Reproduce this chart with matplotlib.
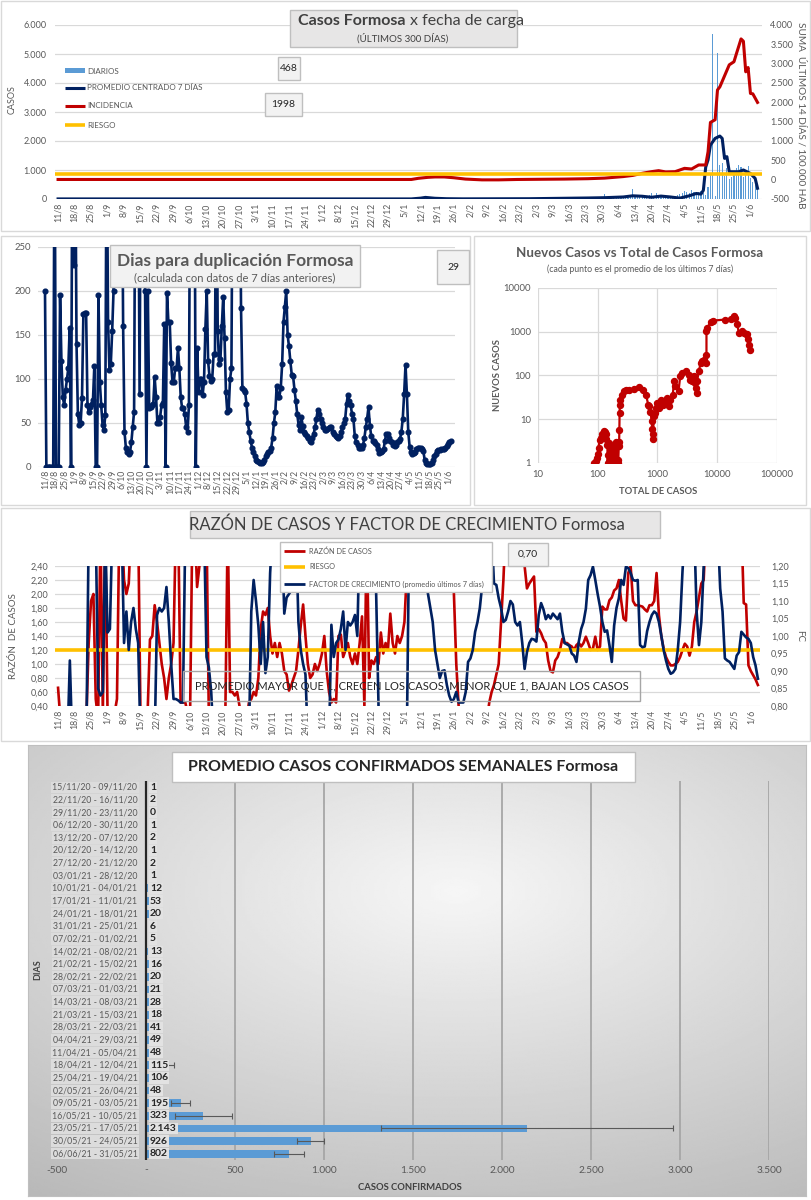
import numpy as np
import matplotlib
matplotlib.use('Agg')
import matplotlib.pyplot as plt
from matplotlib.patches import Rectangle
from matplotlib.lines import Line2D
from matplotlib.ticker import FuncFormatter

# ======================= DATA =======================
# etiquetas del eje X (cada 7 días desde 11/8/2020; los días se cuentan desde esa fecha)
fechas_ticks = ['11/8', '18/8', '25/8', '1/9', '8/9', '15/9', '22/9', '29/9', '6/10', '13/10',
                '20/10', '27/10', '3/11', '10/11', '17/11', '24/11', '1/12', '8/12', '15/12',
                '22/12', '29/12', '5/1', '12/1', '19/1', '26/1', '2/2', '9/2', '16/2', '23/2',
                '2/3', '9/3', '16/3', '23/3', '30/3', '6/4', '13/4', '20/4', '27/4', '4/5',
                '11/5', '18/5', '25/5', '1/6']

# --- Panel 1: casos diarios (desde el día 200 = 27/2/2021)
diarios_dia_inicial = 200
diarios = [20, 30, 15, 40, 10, 25, 20, 35, 30, 25,
           30, 40, 45, 20, 35, 30, 60, 25, 45, 40,
           50, 35, 70, 20, 40, 55, 30, 45, 35, 60,
           50, 40, 170, 30, 45, 60, 40, 55, 65, 50,
           70, 60, 45, 80, 335, 120, 90, 110, 60, 70,
           80, 150, 190, 120, 200, 90, 110, 60, 50, 80,
           70, 100, 120, 150, 180, 220, 280, 250, 210, 300,
           240, 180, 230, 260, 200, 150, 420, 900, 5700, 100,
           5020, 1170, 1250, 800, 1060, 700, 770, 950, 1060, 1170,
           1100, 760, 1000, 1150, 720, 600, 480, 468]
prom_dia = [0, 150, 154, 156, 160, 165, 172, 200, 215, 225,
            232, 240, 244, 248, 252, 256, 260, 264, 268, 271,
            273, 274, 275, 276, 277, 279, 281, 282, 283, 284,
            285, 289, 291, 294, 296, 297]
prom_val = [3, 3, 30, 55, 25, 10, 5, 10, 25, 35,
            45, 70, 110, 95, 60, 100, 70, 30, 110, 190,
            170, 300, 1100, 1350, 1860, 2090, 2170, 2090, 1400, 1460,
            940, 940, 1000, 880, 710, 370]
inc_dia = [0, 150, 153, 157, 160, 164, 168, 173, 180, 187,
           195, 205, 215, 225, 232, 240, 244, 248, 252, 255,
           258, 262, 266, 269, 272, 275, 276, 277, 279, 280,
           281, 285, 287, 288, 290, 291, 292, 293, 294, 295, 297]
inc_val = [5, 5, 35, 60, 70, 70, 50, 15, -5, -5,
           5, 10, 15, 25, 40, 80, 110, 164, 207, 233,
           200, 207, 293, 276, 380, 380, 724, 1480, 1550, 2320,
           2400, 2970, 3050, 3250, 3640, 3580, 2790, 2900, 2230, 2220, 1998]
riesgo_inc = 150
ultimo_diario = 468
ultima_incidencia = 1998

# --- Panel 2: días para duplicación (diario desde 11/8)
duplicacion = [200, 0, 0, 0, 0, 0, 0, 400, 0, 0,
               0, 196, 120, 80, 70, 87, 100, 112, 158, 0,
               400, 230, 400, 140, 60, 48, 50, 78, 174, 175,
               175, 70, 62, 68, 72, 76, 115, 0, 0, 196,
               97, 70, 48, 42, 59, 400, 165, 110, 117, 154,
               200, 400, 400, 400, 400, 400, 400, 160, 40, 22,
               17, 15, 17, 28, 45, 63, 400, 400, 400, 83,
               400, 400, 400, 200, 0, 200, 67, 68, 70, 72,
               102, 80, 50, 50, 57, 70, 73, 163, 0, 198,
               165, 165, 118, 97, 97, 113, 113, 135, 112, 80,
               67, 67, 60, 45, 40, 70, 400, 400, 400, 400,
               0, 135, 85, 100, 100, 82, 97, 157, 200, 120,
               103, 98, 100, 128, 128, 400, 155, 117, 123, 160,
               193, 147, 85, 62, 65, 100, 112, 400, 400, 400,
               400, 400, 400, 181, 90, 87, 85, 72, 50, 40,
               30, 22, 17, 12, 8, 7, 6, 5, 5, 6,
               8, 12, 15, 17, 18, 22, 33, 50, 62, 92,
               80, 80, 90, 117, 165, 182, 200, 150, 137, 120,
               105, 103, 88, 75, 60, 48, 42, 57, 47, 40,
               38, 35, 33, 30, 28, 33, 38, 45, 55, 65,
               60, 55, 50, 45, 42, 42, 43, 44, 45, 46,
               40, 38, 35, 34, 33, 35, 40, 45, 50, 55,
               72, 82, 75, 70, 60, 55, 35, 28, 25, 22,
               22, 22, 25, 33, 45, 55, 68, 47, 35, 30,
               30, 27, 25, 20, 16, 17, 18, 20, 30, 38,
               38, 33, 30, 28, 25, 24, 25, 28, 30, 32,
               40, 55, 83, 116, 83, 40, 23, 17, 15, 16,
               17, 20, 22, 22, 22, 20, 18, 8, 5, 3,
               3, 3, 5, 8, 12, 15, 18, 19, 19, 20,
               20, 21, 22, 24, 26, 28, 29]
ultima_duplicacion = 29

# --- Panel 3: nuevos casos vs total de casos
total_casos = [88, 92, 97, 100, 103, 107, 112, 118, 125, 130, 136, 140, 145, 146, 150, 155,
               160, 168, 175, 180, 188, 195, 200, 205, 210, 215, 220, 225, 228, 230, 232, 235,
               240, 250, 270, 300, 338, 408, 494, 563, 640, 700, 730, 760, 800, 815, 830, 845,
               860, 900, 935, 1000, 1070, 1140, 1250, 1350, 1460, 1550, 1650, 1800, 1900, 2000,
               2250, 2400, 2600, 3000, 3400, 3500, 3600, 3800, 4100, 4250, 4400, 4500, 4600,
               4900, 5300, 5600, 6000, 6400, 6600, 6600, 6700, 7800, 8500, 13700, 17000, 19000,
               20000, 21500, 23000, 26000, 28500, 30000, 32000, 33000, 34500, 35000]
nuevos_casos = [1, 1.1, 1.3, 1.6, 2.2, 3.4, 3.7, 4.5, 5.3, 5, 4.5, 3.5, 2.6, 1, 1.5, 2.8,
                1, 2.2, 1.2, 1, 2.5, 1.3, 3, 1, 2.8, 1.2, 1, 2.5, 3, 5.8, 13.9, 21.6,
                28, 36.6, 43.6, 46, 47.6, 49.6, 54, 47.6, 36.6, 21.6, 19.8, 15, 9, 6, 4.5, 3.6,
                11.7, 14, 18.2, 23.7, 18.2, 28, 21.6, 25.8, 30.8, 19.8, 28, 36.6, 74, 57,
                43.6, 96.5, 114, 125, 105, 80, 88, 74, 96.5, 68, 52, 40, 74,
                125, 195, 212, 230, 195, 300, 1020, 1200, 1680, 1800, 1900, 2000, 2250,
                2100, 1500, 950, 1020, 950, 900, 870, 670, 510, 390]

# --- Panel 4: razón de casos (eje izq.) y factor de crecimiento (eje der.), diario desde 11/8
razon_casos = [0.66, 0.2, 0.2, 0.2, 0.2, 0.2, 0.2, 0.2, 0.2, 0.2,
               0.2, 0.2, 0.2, 1.3, 1.9, 2.0, 0.5, 0.2, 3.0, 0.3,
               3.0, 0.3, 0.2, 0.2, 0.3, 0.5, 3.0, 3.0, 2.2, 2.0,
               2.15, 3.0, 3.0, 3.0, 3.0, 0.2, 0.2, 0.2, 0.3, 1.35,
               1.4, 1.84, 1.6, 1.3, 1.0, 0.8, 0.5, 0.8, 1.0, 1.3,
               3.0, 3.0, 0.45, 0.45, 0.45, 0.3, 0.2, 3.0, 3.0, 2.1,
               2.4, 3.0, 3.0, 3.0, 0.2, 0.2, 0.2, 0.2, 0.2, 0.2,
               0.2, 0.3, 3.0, 0.6, 0.6, 0.55, 0.6, 0.4, 0.2, 0.2,
               0.2, 0.45, 0.5, 0.6, 0.55, 0.8, 1.5, 1.75, 1.7, 1.8,
               1.4, 1.15, 1.3, 1.1, 1.3, 1.15, 0.9, 0.85, 0.62, 0.7,
               0.8, 0.9, 1.2, 1.55, 1.85, 1.4, 1.0, 0.8, 0.85, 1.0,
               0.9, 1.0, 1.15, 1.4, 0.9, 0.6, 0.45, 0.5, 0.45, 1.4,
               1.42, 1.1, 1.2, 1.3, 1.1, 1.0, 1.15, 1.0, 1.3, 1.68,
               0.4, 3.0, 0.8, 1.05, 1.0, 1.1, 1.0, 1.45, 1.15, 1.3,
               1.2, 1.72, 1.3, 1.15, 1.4, 1.3, 1.4, 1.6, 2.3, 3.0,
               3.0, 3.0, 3.0, 3.0, 3.0, 3.0, 3.0, 3.0, 3.0, 3.0,
               3.0, 3.0, 3.0, 3.0, 3.0, 3.0, 3.0, 3.0, 2.0, 1.0,
               0.4, 0.2, 0.2, 0.2, 0.2, 0.2, 0.2, 0.2, 0.2, 0.2,
               0.2, 0.2, 0.2, 0.45, 0.6, 0.7, 0.85, 1.0, 1.6, 2.2,
               3.0, 3.0, 3.0, 3.0, 3.0, 3.0, 3.0, 3.0, 2.4, 2.08,
               2.15, 2.2, 2.25, 1.46, 1.5, 1.44, 1.35, 1.3, 1.05, 0.9,
               0.88, 1.05, 1.1, 1.2, 1.36, 1.3, 1.3, 1.27, 1.25, 1.2,
               1.27, 1.3, 1.25, 1.3, 1.39, 1.3, 1.2, 1.22, 1.39, 1.2,
               1.25, 1.82, 1.78, 1.78, 1.91, 1.95, 2.05, 2.08, 2.2, 1.9,
               1.65, 1.62, 2.3, 2.4, 1.9, 1.84, 1.84, 1.83, 1.82, 1.78,
               1.75, 1.84, 1.84, 1.9, 2.3, 1.7, 1.4, 1.22, 1.1, 1.03,
               0.98, 0.98, 1.0, 1.03, 1.1, 1.2, 1.29, 1.25, 1.12, 1.25,
               1.6, 1.75, 1.95, 2.15, 2.2, 3.0, 3.0, 3.0, 3.0, 3.0,
               3.0, 3.0, 3.0, 3.0, 3.0, 3.0, 3.0, 3.0, 3.0, 3.0,
               3.0, 1.87, 1.85, 0.98, 0.9, 0.84, 0.78, 0.70]
factor_crec = [0.7, 0.7, 0.7, 0.7, 0.7, 0.93, 0.7, 0.7, 0.7, 0.7,
               0.7, 0.7, 0.7, 1.3, 1.3, 1.3, 1.3, 0.85, 0.83, 0.84,
               1.3, 1.01, 1.02, 1.3, 1.3, 1.3, 1.3, 1.3, 0.98, 1.07,
               0.96, 1.04, 1.08, 1.02, 0.98, 0.7, 0.7, 0.7, 0.7, 0.7,
               0.7, 0.7, 1.06, 1.08, 1.07, 1.08, 1.14, 1.04, 0.92, 0.82,
               0.82, 0.816, 0.81, 0.81, 1.3, 1.3, 1.3, 1.3, 1.3, 1.3,
               1.3, 1.3, 1.3, 0.94, 0.91, 0.84, 0.7, 0.7, 0.7, 0.7,
               0.7, 0.7, 0.7, 0.7, 0.7, 0.7, 0.7, 0.7, 0.7, 0.7,
               0.7, 0.7, 1.07, 1.16, 1.10, 1.03, 0.92, 1.04, 0.894, 0.94,
               1.18, 1.3, 1.3, 1.3, 1.3, 1.3, 1.064, 1.11, 1.12, 1.13,
               1.16, 1.3, 1.04, 0.96, 0.92, 0.89, 0.7, 0.7, 0.7, 0.7,
               0.7, 0.7, 0.7, 0.7, 0.7, 0.7, 1.032, 0.94, 0.98, 0.99,
               1.02, 1.07, 0.96, 1.04, 1.03, 1.04, 1.06, 1.0, 1.3, 1.3,
               1.3, 1.3, 1.3, 1.3, 1.3, 1.12, 0.8, 0.7, 0.7, 0.7,
               0.7, 0.7, 0.7, 0.7, 0.7, 0.7, 0.7, 0.7, 0.7, 1.3,
               1.3, 1.3, 1.3, 1.3, 1.3, 1.3, 1.16, 1.12, 1.08, 1.04,
               0.96, 0.92, 0.88, 0.90, 0.902, 0.86, 0.83, 0.812, 0.82, 0.84,
               0.81, 0.81, 0.81, 0.84, 0.926, 0.936, 0.96, 1.012, 1.04, 1.08,
               1.146, 1.3, 1.3, 1.3, 1.3, 1.15, 1.146, 1.108, 1.08, 1.04,
               1.046, 1.07, 1.10, 1.09, 1.04, 1.03, 1.04, 0.98, 0.906, 0.954,
               0.98, 0.992, 0.99, 0.984, 1.06, 1.094, 1.076, 1.048, 1.06, 1.05,
               1.064, 1.056, 1.048, 1.064, 1.012, 0.98, 0.976, 0.972, 0.95, 0.944,
               0.926, 0.984, 1.02, 1.04, 1.078, 1.16, 1.174, 1.198, 1.16, 1.12,
               1.084, 1.04, 1.012, 1.016, 0.974, 0.926, 1.03, 1.08, 1.108, 1.16,
               1.146, 1.198, 1.194, 1.18, 1.16, 1.158, 1.16, 0.974, 0.968, 0.97,
               1.014, 1.04, 1.06, 1.07, 1.064, 1.04, 1.002, 0.96, 0.93, 0.906,
               0.892, 0.896, 0.906, 0.96, 1.04, 1.184, 1.3, 1.3, 1.3, 1.3,
               1.3, 1.07, 0.974, 1.04, 1.198, 1.3, 1.3, 1.3, 1.3, 1.3,
               1.3, 1.136, 1.07, 0.936, 0.93, 0.926, 0.916, 0.906, 0.944, 0.954,
               1.012, 1.004, 0.996, 0.992, 0.98, 0.94, 0.916, 0.878]
riesgo_razon = 1.2
ultima_razon = '0,70'

# --- Panel 5: promedio semanal de casos confirmados
semanas = ['15/11/20 - 09/11/20', '22/11/20 - 16/11/20', '29/11/20 - 23/11/20',
           '06/12/20 - 30/11/20', '13/12/20 - 07/12/20', '20/12/20 - 14/12/20',
           '27/12/20 - 21/12/20', '03/01/21 - 28/12/20', '10/01/21 - 04/01/21',
           '17/01/21 - 11/01/21', '24/01/21 - 18/01/21', '31/01/21 - 25/01/21',
           '07/02/21 - 01/02/21', '14/02/21 - 08/02/21', '21/02/21 - 15/02/21',
           '28/02/21 - 22/02/21', '07/03/21 - 01/03/21', '14/03/21 - 08/03/21',
           '21/03/21 - 15/03/21', '28/03/21 - 22/03/21', '04/04/21 - 29/03/21',
           '11/04/21 - 05/04/21', '18/04/21 - 12/04/21', '25/04/21 - 19/04/21',
           '02/05/21 - 26/04/21', '09/05/21 - 03/05/21', '16/05/21 - 10/05/21',
           '23/05/21 - 17/05/21', '30/05/21 - 24/05/21', '06/06/21 - 31/05/21']
promedio_semanal = [1, 2, 0, 1, 2, 1, 2, 1, 12, 53, 20, 6, 5, 13, 16, 20, 21, 28, 18,
                    41, 49, 48, 115, 106, 48, 195, 323, 2143, 926, 802]
error_semanal = [0, 0, 0, 0, 0, 0, 0, 0, 0, 0, 0, 0, 0, 0, 0, 0, 0, 0, 0,
                 0, 0, 0, 40, 0, 0, 55, 160, 820, 75, 85]

# ======================= STYLE / LAYOUT =======================
plt.rcParams['font.family'] = ['Lato', 'DejaVu Sans']
W, H = 812, 1200
fig = plt.figure(figsize=(W / 100, H / 100), dpi=100)
fig.patch.set_facecolor('white')

NAVY, RED, GOLD, BLUE = '#002060', '#C00000', '#FFC000', '#5B9BD5'
GRID, TXT = '#d9d9d9', '#595959'


def fx(x):
    return x / W


def fy(y):
    return 1 - y / H


def ax_px(x0, y0, x1, y1):
    return fig.add_axes([fx(x0), fy(y1), (x1 - x0) / W, (y1 - y0) / H])


def rect(x0, y0, x1, y1, fc='none', ec='#d9d9d9', lw=1.0, z=1):
    fig.add_artist(Rectangle((fx(x0), fy(y1)), (x1 - x0) / W, (y1 - y0) / H,
                             transform=fig.transFigure, facecolor=fc, edgecolor=ec,
                             lw=lw, zorder=z))


def ftext(x, y, s, **kw):
    kw.setdefault('zorder', 11)
    fig.text(fx(x), fy(y), s, **kw)


def fline(x0, x1, y, color, lw):
    fig.add_artist(Line2D([fx(x0), fx(x1)], [fy(y), fy(y)], transform=fig.transFigure,
                          color=color, lw=lw, zorder=11, solid_capstyle='butt'))


def miles(v, _=None):
    return f'{v:,.0f}'.replace(',', '.')


def coma(v, _=None):
    return f'{v:.2f}'.replace('.', ',')


def clean(ax):
    for s in ax.spines.values():
        s.set_visible(False)
    ax.tick_params(length=0, colors=TXT)


tick_pos = np.arange(len(fechas_ticks)) * 7

# panel frames
rect(1, 1, 810, 231)
rect(1, 236, 470, 505)
rect(474, 236, 806, 505)
rect(1, 508, 810, 741)

# ======================= PANEL 1 =======================
ax1 = ax_px(55, 25, 762, 199)
clean(ax1)
ax1.set_xlim(-1.3, 298.9)
ax1.set_ylim(0, 6000)
ax1.set_yticks(np.arange(0, 6001, 1000))
ax1.yaxis.set_major_formatter(FuncFormatter(miles))
ax1.grid(axis='y', color=GRID, lw=0.9)
ax1.set_axisbelow(True)
xd = np.arange(len(diarios)) + diarios_dia_inicial
ax1.bar(xd, diarios, width=0.5, color=BLUE, zorder=2)
ax1.plot(prom_dia, prom_val, color=NAVY, lw=2.2, zorder=3)
ax1.set_xticks(tick_pos)
ax1.set_xticklabels(fechas_ticks, rotation=90, fontsize=6.3, color=TXT)
ax1.tick_params(axis='y', labelsize=6.5, pad=6)
ax1.tick_params(axis='x', pad=3)
ax1b = ax1.twinx()
clean(ax1b)
ax1b.set_ylim(-500, 4000)
ax1b.set_yticks(np.arange(-500, 4001, 500))
ax1b.yaxis.set_major_formatter(FuncFormatter(miles))
ax1b.tick_params(axis='y', labelsize=6.5, pad=6)
ax1b.plot(inc_dia, inc_val, color=RED, lw=2.2, zorder=3)
ax1b.axhline(riesgo_inc, color=GOLD, lw=2.6, zorder=4)

rect(290, 10, 517, 47, fc='#e7e6e6', ec='#bfbfbf', z=10)
ftext(406, 21, 'Casos Formosa', ha='right', va='center', fontsize=11.5,
      fontweight='bold', color='#404040')
ftext(410, 21, 'x fecha de carga', ha='left', va='center', fontsize=11.5, color='#404040')
ftext(403, 38, '(ÚLTIMOS 300 DÍAS)', ha='center', va='center', fontsize=7, color='#404040')
ftext(12, 100, 'CASOS', rotation=90, ha='center', va='center', fontsize=6.5, color=TXT)
ftext(801, 115, 'SUMA  ÚLTIMOS 14 DÍAS / 100.000 HAB', rotation=270, ha='center',
      va='center', fontsize=7.2, color=TXT)

rect(65, 68, 85, 73, fc=BLUE, ec='none', z=11)
fline(65, 85, 88, NAVY, 2.2)
fline(65, 85, 106, RED, 2.2)
fline(65, 85, 125, GOLD, 2.6)
for yy, lab in [(71, 'DIARIOS'), (88, 'PROMEDIO CENTRADO 7 DÍAS'),
                (106, 'INCIDENCIA'), (125, 'RIESGO')]:
    ftext(87, yy, lab, ha='left', va='center', fontsize=5.8, color=TXT)
rect(278, 57, 300, 80, fc='#f2f2f2', ec='#bfbfbf', z=10)
ftext(289, 68.5, str(ultimo_diario), ha='center', va='center', fontsize=7.5, color='#262626')
rect(265, 93, 302, 116, fc='#f2f2f2', ec='#bfbfbf', z=10)
ftext(283.5, 104.5, str(ultima_incidencia), ha='center', va='center', fontsize=7.5,
      color='#262626')

# ======================= PANEL 2 =======================
ax2 = ax_px(38, 247, 455, 467)
clean(ax2)
ax2.set_xlim(-5.1, 299.1)
ax2.set_ylim(0, 250)
ax2.set_yticks(np.arange(0, 251, 50))
ax2.grid(axis='y', color=GRID, lw=0.9)
ax2.set_axisbelow(True)
ax2.plot(np.arange(len(duplicacion)), duplicacion, color=NAVY, lw=1.9, marker='o',
         ms=3.4, zorder=3)
ax2.set_xticks(tick_pos)
ax2.set_xticklabels(fechas_ticks, rotation=90, fontsize=6.3, color=TXT)
ax2.tick_params(axis='y', labelsize=6.8, pad=5)
ax2.tick_params(axis='x', pad=2)
rect(110, 245, 360, 287, fc='#f2f2f2', ec='#bfbfbf', z=10)
ftext(235, 261, 'Dias para duplicación Formosa', ha='center', va='center', fontsize=12.5,
      fontweight='bold', color=TXT)
ftext(235, 278, '(calculada con datos de 7 días anteriores)', ha='center', va='center',
      fontsize=8, color=TXT)
rect(437, 250, 469, 284, fc='#f2f2f2', ec='#bfbfbf', z=10)
ftext(453, 267, str(ultima_duplicacion), ha='center', va='center', fontsize=7.5,
      color='#262626')

# ======================= PANEL 3 =======================
ax3 = ax_px(538, 288, 777, 463)
clean(ax3)
ax3.set_xscale('log')
ax3.set_yscale('log')
ax3.set_xlim(10, 100000)
ax3.set_ylim(1, 10000)
ax3.grid(True, which='major', color=GRID, lw=0.9)
ax3.minorticks_off()
ax3.set_axisbelow(True)
ax3.plot(total_casos, nuevos_casos, color=RED, lw=1.6, marker='o', ms=4.3, zorder=3)
ax3.xaxis.set_major_formatter(FuncFormatter(lambda v, _: f'{v:.0f}'))
ax3.yaxis.set_major_formatter(FuncFormatter(lambda v, _: f'{v:.0f}'))
ax3.tick_params(labelsize=6.8, pad=5)
ftext(640, 253, 'Nuevos Casos vs Total de Casos Formosa', ha='center', va='center',
      fontsize=9.6, fontweight='bold', color=TXT)
ftext(640, 269, '(cada punto es el promedio de los últimos 7 días)', ha='center',
      va='center', fontsize=6.3, color=TXT)
ftext(658, 491, 'TOTAL DE CASOS', ha='center', va='center', fontsize=6.8,
      fontweight='bold', color=TXT)
ftext(498, 375, 'NUEVOS CASOS', rotation=90, ha='center', va='center', fontsize=6.8,
      fontweight='bold', color=TXT)

# ======================= PANEL 4 =======================
ax4 = ax_px(55, 566, 760, 706)
clean(ax4)
ax4.set_xlim(-1.3, 297.9)
ax4.set_ylim(0.4, 2.4)
ax4.set_yticks(np.arange(0.4, 2.41, 0.2))
ax4.yaxis.set_major_formatter(FuncFormatter(coma))
ax4.grid(axis='y', color=GRID, lw=0.9)
ax4.set_axisbelow(True)
ax4.plot(np.arange(len(razon_casos)), razon_casos, color=RED, lw=1.9, zorder=3)
ax4.axhline(riesgo_razon, color=GOLD, lw=2.6, zorder=4)
ax4.set_xticks(tick_pos)
ax4.set_xticklabels(fechas_ticks, rotation=90, fontsize=6.3, color=TXT)
ax4.tick_params(axis='y', labelsize=6.5, pad=5)
ax4.tick_params(axis='x', pad=3)
ax4b = ax4.twinx()
clean(ax4b)
ax4b.set_ylim(0.8, 1.2)
ax4b.set_yticks(np.arange(0.8, 1.201, 0.05))
ax4b.yaxis.set_major_formatter(FuncFormatter(coma))
ax4b.tick_params(axis='y', labelsize=6.5, pad=8)
ax4b.plot(np.arange(len(factor_crec)), factor_crec, color=NAVY, lw=1.9, zorder=3)

rect(190, 511, 660, 538, fc='#e7e6e6', ec='#bfbfbf', z=10)
ftext(407, 525, 'RAZÓN DE CASOS Y FACTOR DE CRECIMIENTO Formosa', ha='center',
      va='center', fontsize=12, color='#404040')
ftext(14, 636, 'RAZÓN  DE CASOS', rotation=90, ha='center', va='center', fontsize=7,
      color=TXT)
ftext(800, 636, 'FC', rotation=270, ha='center', va='center', fontsize=7, color=TXT)
rect(280, 542, 492, 592, fc='white', ec='#bfbfbf', z=10)
fline(284, 305, 551, RED, 2.0)
fline(284, 305, 567, GOLD, 2.6)
fline(284, 305, 584, NAVY, 2.0)
for yy, lab in [(551, 'RAZÓN DE CASOS'), (567, 'RIESGO'),
                (584, 'FACTOR DE CRECIMIENTO (promedio últimos 7 días)')]:
    ftext(309, yy, lab, ha='left', va='center', fontsize=5.3, color=TXT)
rect(508, 543, 548, 566, fc='#f2f2f2', ec='#bfbfbf', z=10)
ftext(528, 554.5, ultima_razon, ha='center', va='center', fontsize=7.5, color='#262626')
rect(183, 671, 640, 701, fc='none', ec='#a6a6a6', z=10)
ftext(412, 686, 'PROMEDIO MAYOR QUE 1, CRECEN LOS CASOS, MENOR QUE 1, BAJAN LOS CASOS',
      ha='center', va='center', fontsize=8, color='#262626')

# ======================= PANEL 5 =======================
axbg = ax_px(28, 745, 806, 1196)
axbg.set_zorder(-1)
gx = np.linspace(-1, 1, 300)
gy = np.linspace(-1, 1, 300)
GX, GY = np.meshgrid(gx, gy)
shade = 0.965 - 0.16 * np.sqrt(((GX - 0.1) / 1.25) ** 2 + ((GY - 0.35) / 1.1) ** 2)
axbg.imshow(shade, cmap='gray', vmin=0, vmax=1, aspect='auto', extent=(0, 1, 0, 1),
            origin='lower')
axbg.set_xlim(0, 1)
axbg.set_ylim(0, 1)
axbg.set_xticks([])
axbg.set_yticks([])
for s in axbg.spines.values():
    s.set_color('#bfbfbf')

ax5 = ax_px(57, 781, 769, 1160)
ax5.patch.set_alpha(0)
clean(ax5)
n = len(semanas)
ypos = np.arange(n)
ax5.set_xlim(-500, 3500)
ax5.set_ylim(n - 0.5, -0.5)
for xv in range(500, 3501, 500):
    ax5.axvline(xv, color='#a6a6a6', lw=1.3, zorder=0)
ax5.barh(ypos, promedio_semanal, height=0.62, color=BLUE, zorder=2)
err_idx = [i for i, e in enumerate(error_semanal) if e > 0]
ax5.errorbar([promedio_semanal[i] for i in err_idx], [ypos[i] for i in err_idx],
             xerr=[error_semanal[i] for i in err_idx], fmt='none', ecolor='#595959',
             elinewidth=0.8, capsize=2.2, capthick=0.8, zorder=3)
ax5.axvline(0, color='#262626', lw=1.6, zorder=4)
for i in range(n):
    ax5.text(-48, ypos[i], semanas[i], ha='right', va='center', fontsize=6.3, color=TXT,
             bbox=dict(boxstyle='square,pad=0.15', fc='#dcdcdc', ec='none'), zorder=5)
    ax5.text(22, ypos[i], miles(promedio_semanal[i]), ha='left', va='center', fontsize=7.5,
             fontweight='bold', color='#262626',
             bbox=dict(boxstyle='square,pad=0.12', fc='#e2e2e2', ec='none'), zorder=5)
ax5.set_yticks([])
ax5.set_xticks(np.arange(-500, 3501, 500))
ax5.xaxis.set_major_formatter(FuncFormatter(lambda v, _: '-' if v == 0 else miles(v)))
ax5.tick_params(axis='x', labelsize=7.3, pad=4, colors=TXT)

rect(172, 752, 635, 782, fc='white', ec='#bfbfbf', z=10)
ftext(403, 767, 'PROMEDIO CASOS CONFIRMADOS SEMANALES Formosa', ha='center', va='center',
      fontsize=11.5, fontweight='bold', color='#262626')
ftext(410, 1187, 'CASOS CONFIRMADOS', ha='center', va='center', fontsize=6.8,
      fontweight='bold', color='#404040')
ftext(38, 970, 'DIAS', rotation=90, ha='center', va='center', fontsize=6.5,
      fontweight='bold', color='#404040')

fig.savefig('out.png', dpi=100, facecolor='white')
